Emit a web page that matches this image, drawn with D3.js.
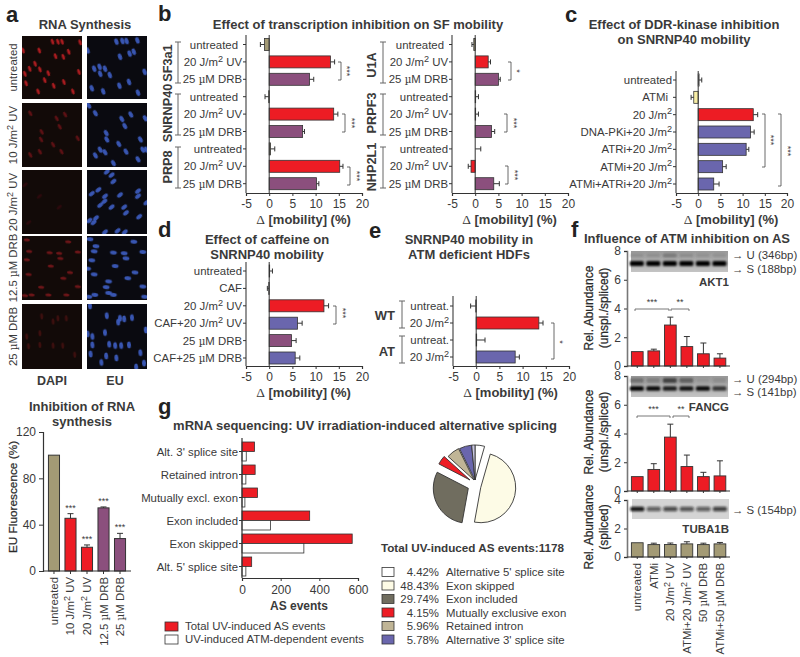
<!DOCTYPE html>
<html><head><meta charset="utf-8">
<script src="https://cdn.jsdelivr.net/npm/d3@7"></script>
<style>
html,body{margin:0;padding:0;background:#fff}
svg{display:block}
text{font-family:"Liberation Sans",Arial,sans-serif;fill:#3a3a3a}
</style></head><body><svg id="c" width="800" height="657"></svg>
<script>
// ---------- colours (named)
const RED="#ed1c24",TAN="#a39a75",PUR="#8b4f7d",BLU="#6a66ad",YEL="#f7eda4",WHT="#ffffff";
// ---------- panel a: microscopy nuclei [x%, y%]
const red1=[[51,9],[60,9],[67,9],[97,10],[29,23],[56,32],[69,33],[78,25],[2,23],[22,44],[13,52],[30,53],[5,60],[44,59],[95,57],[53,79],[70,73],[7,75],[27,88],[85,88],[38,70]];
const red2=[[14,16],[72,18],[58,24],[33,45],[32,57],[63,37],[52,65],[66,76],[14,81],[30,76],[93,55]];
const red3=[[29,41],[11,82],[62,58],[5,23]];
const red4=[[8,6],[77,9],[12,24],[46,26],[62,27],[93,25],[8,37],[64,35],[48,47],[11,60],[80,57],[69,66],[32,80],[93,79],[16,92],[5,93],[44,92],[74,92]];
const red5=[[33,19],[52,27],[60,22],[74,22],[8,50],[30,45],[30,63],[52,64],[68,64],[88,78],[11,65]];
const blue1=[[49,9],[59,8],[66,8],[84,7],[1,23],[55,33],[71,28],[78,25],[12,52],[21,49],[30,52],[38,62],[54,79],[70,73],[96,57],[8,83],[27,88],[85,90],[22,60]];
const blue2=[[3,4],[14,16],[73,18],[58,25],[97,24],[63,36],[32,47],[33,57],[53,64],[65,76],[93,73],[30,77],[14,82],[44,94],[89,57],[85,88],[22,73],[99,73]];
const blue3=[[33,3],[41,8],[44,18],[8,37],[19,31],[30,41],[29,49],[22,55],[55,39],[41,58],[62,58],[65,67],[85,33],[85,41],[99,51],[87,73],[15,75],[11,82],[4,79],[30,97],[51,95],[63,97]];
const blue4=[[5,5],[15,16],[12,24],[78,9],[44,26],[62,27],[65,35],[93,25],[8,38],[47,47],[1,51],[12,60],[80,57],[68,66],[36,71],[32,80],[93,79],[44,92],[13,92],[3,95],[96,95],[36,89]];
const blue5=[[5,3],[33,18],[55,22],[62,23],[75,21],[52,28],[1,46],[9,50],[30,44],[98,40],[9,63],[37,62],[47,64],[57,64],[70,63],[6,77],[32,80],[49,83],[89,75],[24,90],[95,91],[82,97]];
const redSets=[red1,red2,red3,red4,red5],blueSets=[blue1,blue2,blue3,blue4,blue5];
const redOpacity=[0.7,0.35,0.12,0.42,0.2];
const rowAngle=[70,60,-40,5,85];
const imgLabels=["untreated","10 J/m² UV","20 J/m² UV","12.5 µM DRB","25 µM DRB"];
// panel a bar
const aCats=["untreated","10 J/m² UV","20 J/m² UV","12.5 µM DRB","25 µM DRB"];
const aVals=[100,45.5,20.5,54.5,28];
const aErrs=[0,4,2,0.8,4.5];
const aCols=[TAN,RED,RED,PUR,PUR];
const aStars=["","***","***","***","***"];
// panel b
const bCats=["untreated","20 J/m² UV","25 µM DRB"];
const bLeftVals=[-1,13.2,8.7,-0.1,13.9,7.2,0.3,15.2,10.2];
const bLeftErrs=[0.9,0.9,0.9,0.8,0.9,0.4,0.9,0.7,0.5];
const bRightVals=[-0.3,2.8,5,0.1,0.1,3.5,0,-0.9,4];
const bRightErrs=[0.4,0.5,0.4,0.6,0.6,0.7,1.2,0.6,1.2];
const bCols=[TAN,RED,PUR,TAN,RED,PUR,TAN,RED,PUR];
// panel c
const cCats=["untreated","ATMi","20 J/m²","DNA-PKi+20 J/m²","ATRi+20 J/m²","ATMi+20 J/m²","ATMi+ATRi+20 J/m²"];
const cVals=[0.2,-1,12.4,11.8,10.8,5.5,3.5];
const cErrs=[0.6,0.6,1,0.8,0.6,0.8,1.2];
const cCols=[WHT,YEL,RED,BLU,BLU,BLU,BLU];
// panel d
const dCats=["untreated","CAF","20 J/m² UV","CAF+20 J/m² UV","25 µM DRB","CAF+25 µM  DRB"];
const dVals=[0.1,-0.1,11.8,6.1,4.8,5.6];
const dErrs=[0.6,0.3,1,1,1,1];
const dCols=[WHT,WHT,RED,BLU,PUR,BLU];
// panel e
const eCats=["untreat.","20 J/m²","untreat.","20 J/m²"];
const eVals=[-0.1,13.5,0.1,8.4];
const eErrs=[1.1,0.9,1.8,0.9];
const eCols=[WHT,RED,WHT,BLU];
// panel f
const fCats=["untreated","ATMi","20 J/m² UV","ATMi+20 J/m² UV","50 µM DRB","ATMi+50 µM DRB"];
const f1Vals=[1,1.05,2.85,1.35,0.85,0.55];
const f1Errs=[0,0.12,0.55,0.7,0.75,0.3];
const f2Vals=[1,1.5,3.75,1.7,1,1.05];
const f2Errs=[0,0.4,0.9,0.8,0.3,1.05];
const f3Vals=[1,0.87,0.88,0.92,0.87,0.92];
const f3Errs=[0,0.1,0.1,0.15,0.1,0.1];
const gel1U=[.25,.25,.55,.3,.22,.22];
const gel1S=[1,1,1,1,1,1];
const gel2U=[.45,.3,.85,.6,.12,.2];
const gel2S=[1,.95,.85,.9,.95,.7];
const gel3S=[.95,.6,.7,.65,.6,.75];
// panel g
const gCats=["Alt. 3' splice site","Retained intron","Mutually excl. exon","Exon included","Exon skipped","Alt. 5' splice site"];
const gTotal=[65,68,80,350,570,50];
const gAtm=[22,20,15,147,320,20];
const gLegend=["Total UV-induced AS events","UV-induced ATM-dependent events"];
// pie
const pieLabels=["Alternative 5' splice site","Exon skipped","Exon included","Mutually exclusive exon","Retained intron","Alternative 3' splice site"];
const piePct=[4.42,48.43,29.74,4.15,5.96,5.78];
const pieRest=[1.52];
const pieCols=["#ffffff","#fdfbe6","#706d5f",RED,"#c0b596",BLU,"#c9c7e2"];
const pieShift=[[0,0],[5.7,7.7],[-6.7,8.3],[-5,0],[-1,0],[0,0],[0,0]];

const svg=d3.select("#c");
const FS=11.4, TX="#3a3a3a";
svg.append("defs").html(`
<filter id="b1" x="-30%" y="-60%" width="160%" height="220%"><feGaussianBlur stdDeviation="1.1"/></filter>
<filter id="b2" x="-30%" y="-60%" width="160%" height="220%"><feGaussianBlur stdDeviation="0.6"/></filter>
<linearGradient id="gelg" x1="0" y1="0" x2="0" y2="1"><stop offset="0" stop-color="#9a9a9a"/><stop offset="1" stop-color="#c4c4c4"/></linearGradient>`);

function T(x,y,s,o={}){
  const t=svg.append("text").attr("x",x).attr("y",y).attr("font-size",o.size||FS)
    .attr("text-anchor",o.anchor||"start").attr("dominant-baseline","central");
  if(o.bold)t.attr("font-weight","bold");
  if(o.heavy)t.style("fill","#2a2a2a").attr("stroke","#2a2a2a").attr("stroke-width",0.25);
  if(o.rot!==undefined)t.attr("transform",`rotate(${o.rot} ${x} ${y})`);
  setSup(t,s);return t;
}
function setSup(t,s){ // renders ² as raised 2 and µ with a serif glyph
  const parts=s.split(/(²|µ)/);
  let after=false;
  parts.forEach(p=>{
    if(p==="²"){t.append("tspan").attr("dy","-0.35em").attr("font-size","0.8em").text("2");after=true;}
    else if(p==="µ")t.append("tspan").attr("font-family","DejaVu Serif").attr("font-size","0.9em").text("µ");
    else if(p){const ts=t.append("tspan").text(p);
      if(after){ts.attr("dy","0.28em");after=false;}}
  });
}
function L(x1,y1,x2,y2,c="#333",w=1){svg.append("line").attr("x1",x1).attr("y1",y1).attr("x2",x2).attr("y2",y2).attr("stroke",c).attr("stroke-width",w);}
function panelLetter(x,y,s){T(x,y,s,{size:22,bold:true}).style("fill","#222");}

// panel letters
[[6,14,"a"],[158,13,"b"],[565,14,"c"],[158,229,"d"],[369,230,"e"],[571,229,"f"],[158,406,"g"]].forEach(d=>panelLetter(...d));

// --- panel a images
const imgX=[22,87],imgW=60;
const imgY=[36,103,170,236,304],imgH=[63,64,64,64,65];
imgY.forEach((y,r)=>{
  [0,1].forEach(c=>{
    const x=imgX[c],h=imgH[r];
    const id="cl"+r+"_"+c;
    svg.select("defs").append("clipPath").attr("id",id).append("rect").attr("x",x).attr("y",y).attr("width",imgW).attr("height",h);
    const g=svg.append("g").attr("clip-path",`url(#${id})`);
    g.append("rect").attr("x",x).attr("y",y).attr("width",imgW).attr("height",h).attr("fill",c?"#0a0a10":"#120a08");
    const sx=d3.scaleLinear([0,100],[x,x+imgW]),sy=d3.scaleLinear([0,100],[y,y+h]);
    g.selectAll("ellipse").data(c?blueSets[r]:redSets[r]).join("ellipse")
      .attr("transform",d=>`translate(${sx(d[0])},${sy(d[1])}) rotate(${rowAngle[r]})`)
      .attr("rx",c?3.4:3).attr("ry",c?1.9:1.6)
      .attr("fill",c?"#3d5ec4":"#e8232a").attr("fill-opacity",c?0.9:redOpacity[r])
      .attr("filter","url(#b2)");
  });
  T(13,y+imgH[r]/2,imgLabels[r],{rot:-90,anchor:"middle",size:11.4});
});
T(85,24,"RNA Synthesis",{anchor:"middle",bold:true,size:13});
T(52,381,"DAPI",{anchor:"middle",bold:true,size:12.5});
T(115,381,"EU",{anchor:"middle",bold:true,size:12.5});

// --- panel a bar
(function(){
  const y=d3.scaleLinear([0,120],[571,432]);
  const x=d3.scaleBand(aCats,[43,131]).padding(0.33);
  const g=svg.append("g");
  g.selectAll("rect").data(aVals).join("rect")
   .attr("x",(d,i)=>x(aCats[i])).attr("width",x.bandwidth())
   .attr("y",d=>y(d)).attr("height",d=>y(0)-y(d))
   .attr("fill",(d,i)=>aCols[i]).attr("stroke","#333").attr("stroke-width",1);
  aVals.forEach((v,i)=>{
    if(!aErrs[i])return;
    const cx=x(aCats[i])+x.bandwidth()/2;
    L(cx,y(v),cx,y(v+aErrs[i]));L(cx-3,y(v+aErrs[i]),cx+3,y(v+aErrs[i]));
    T(cx,y(v+aErrs[i])-6,aStars[i],{anchor:"middle",size:9});
  });
  const ya=svg.append("g").attr("transform","translate(43,0)").call(d3.axisLeft(y).tickValues([0,40,80,120]).tickSize(4));
  styleAxis(ya,12);
  L(43,571,131,571,"#333",1.2);
  aCats.forEach((c,i)=>{
    const cx=x(c)+x.bandwidth()/2;
    L(cx,571,cx,574);
    T(cx,577,c,{rot:-90,anchor:"end",size:FS});
  });
  T(13,497,"EU Fluorescence (%)",{rot:-90,anchor:"middle",size:11.8,heavy:true});
  T(82,406,"Inhibition of RNA",{anchor:"middle",bold:true,size:13});
  T(82,421,"synthesis",{anchor:"middle",bold:true,size:13});
})();
function styleAxis(s,size){
  s.selectAll("text").attr("font-size",size||FS).attr("font-family","Liberation Sans").style("fill",TX);
  s.selectAll("line").attr("stroke","#333");
  s.select(".domain").attr("stroke","#333").attr("stroke-width",1.2);
}
// --- horizontal bar panel
function hbar(o){
  const x=d3.scaleLinear([-5,20],[o.x0,o.x1]);
  const y=d3.scalePoint(o.cats.map((c,i)=>i),[o.y0,o.y1]);
  const h=o.h||12;
  const g=svg.append("g");
  o.vals.forEach((v,i)=>{
    const cy=y(i),e=o.errs[i],sign=(o.dir&&o.dir[i])||(v<0?-1:1);
    const end=x(v+sign*e);
    L(x(v),cy,end,cy,"#333",1);L(end,cy-2.5,end,cy+2.5,"#333",1);
    if(Math.abs(v)>0.05)g.append("rect").attr("x",Math.min(x(0),x(v))).attr("y",cy-h/2).attr("width",Math.abs(x(v)-x(0))).attr("height",h)
      .attr("fill",o.cols[i]).attr("stroke","#333").attr("stroke-width",.8);
  });
  svg.append("line").attr("x1",x(0)).attr("x2",x(0)).attr("y1",o.top).attr("y2",o.bottom).attr("stroke","#333");
  const xa=svg.append("g").attr("transform",`translate(0,${o.bottom})`).call(d3.axisBottom(x).tickValues([-5,0,5,10,15,20]).tickSize(3).tickFormat(d=>String(d)));
  styleAxis(xa,12);xa.selectAll("text").attr("dy","0.75em");
  L(o.x0,o.top,o.x0,o.bottom,"#666",1.4);
  o.cats.forEach((c,i)=>{
    L(o.x0-3,y(i),o.x0,y(i),"#333");
    T(o.x0-4-((o.dx&&o.dx[i])||0),y(i),c,{anchor:"end"});
  });
  const cx=o.x0+(o.x1-o.x0)*0.5-0.5;
  const t=T(cx,o.bottom+26,"",{anchor:"middle",size:13,bold:true});
  t.append("tspan").attr("font-family","Liberation Serif").attr("font-weight","normal").attr("font-size",13.5).text("Δ");
  t.append("tspan").text(" [mobility] (%)");
}
function sig(x,y1,y2,stars,sx,sy){
  svg.append("path").attr("d",`M${x-3},${y1}H${x}V${y2}H${x-3}`).attr("fill","none").attr("stroke","#444").attr("stroke-width",.8);
  T(sx,sy,stars,{rot:90,anchor:"middle",size:9});
}
function grp(x,y1,y2,cap=3){
  svg.append("path").attr("d",`M${x-cap},${y1}H${x+cap}M${x},${y1}V${y2}M${x-cap},${y2}H${x+cap}`).attr("fill","none").attr("stroke","#666").attr("stroke-width",1);
}
const bRepeat=d3.range(9).map(i=>bCats[i%3]);
T(358,24,"Effect of transcription inhibition on SF mobility",{anchor:"middle",bold:true,size:13});
hbar({cats:bRepeat,vals:bLeftVals,errs:bLeftErrs,cols:bCols,x0:246,x1:362,y0:44.5,y1:183.7,top:35,bottom:193,dx:[4,0,0,4,0,0,0,0,0]});
hbar({cats:bRepeat,vals:bRightVals,errs:bRightErrs,cols:bCols,x0:452,x1:568,y0:44.5,y1:183.7,top:35,bottom:193,dx:[4,0,0,0,0,0,0,0,0],dir:[-1,1,1,1,1,1,1,-1,1]});
sig(341,62,80,"***",347,71);sig(345,114,132,"***",352,123);sig(350,167,185,"***",357,176);
sig(511,62,80,"*",517,71);sig(507,114,132,"***",514,123);sig(508,166,184,"***",515,175);
grp(178,42,83);grp(178,94,135);grp(178,147,188);
grp(383,42,83);grp(383,94,135);grp(383,147,188);
[["SF3a1",63],["SNRNP40",113],["PRP8",167]].forEach(d=>T(168,d[1],d[0],{rot:-90,anchor:"middle",bold:true,size:12.7}));
[["U1A",65],["PRPF3",113],["NHP2L1",167]].forEach(d=>T(372,d[1],d[0],{rot:-90,anchor:"middle",bold:true,size:12.7}));

T(684,24,"Effect of DDR-kinase inhibition",{anchor:"middle",bold:true,size:13});
T(684,39,"on SNRNP40 mobility",{anchor:"middle",bold:true,size:13});
hbar({cats:cCats,vals:cVals,errs:cErrs,cols:cCols,x0:676,x1:787,y0:80,y1:184,top:71,bottom:193,dx:[0,4,0,0,0,0,0]});
sig(765,114,167,"***",771,140);sig(781,114,186,"***",788,151);

T(267,239,"Effect of caffeine on",{anchor:"middle",bold:true,size:13});
T(267,254,"SNRNP40 mobility",{anchor:"middle",bold:true,size:13});
hbar({cats:dCats,vals:dVals,errs:dErrs,cols:dCols,x0:246,x1:362,y0:271,y1:358,top:262,bottom:366});
sig(336,306,324,"***",343,313);

T(469,239,"SNRNP40 mobility in",{anchor:"middle",bold:true,size:13});
T(469,254,"ATM deficient HDFs",{anchor:"middle",bold:true,size:13});
hbar({cats:eCats,vals:eVals,errs:eErrs,cols:eCols,x0:453,x1:569,y0:306,y1:357,top:296,bottom:366,dir:[-1,1,1,1]});
sig(554,323,359,"*",560,342);
grp(402,301,328);grp(402,336,363);
T(395,315,"WT",{anchor:"end",bold:true,size:13});
T(395,351,"AT",{anchor:"end",bold:true,size:13});

// --- panel f
const fX=d3.scaleBand(fCats,[626.6,730.6]).padding(0.29);
function vbar(vals,errs,color,yScale,ticks){
  const base=yScale(0);
  svg.append("g").selectAll("rect").data(vals).join("rect")
   .attr("x",(d,i)=>fX(fCats[i])).attr("width",fX.bandwidth())
   .attr("y",d=>yScale(d)).attr("height",d=>base-yScale(d))
   .attr("fill",color).attr("stroke","#333").attr("stroke-width",.9);
  vals.forEach((v,i)=>{
    const cx=fX(fCats[i])+fX.bandwidth()/2;
    if(errs[i]){L(cx,yScale(v),cx,yScale(v+errs[i]));L(cx-3,yScale(v+errs[i]),cx+3,yScale(v+errs[i]));}
    L(cx,base,cx,base+2);
  });
  const a=svg.append("g").attr("transform","translate(627,0)").call(d3.axisLeft(yScale).tickValues(ticks).tickSize(3).tickFormat(d3.format("d")));
  styleAxis(a,12);a.select(".domain").attr("stroke","#777").attr("stroke-width",1.6);
  L(627,base,730,base,"#333",1.2);
}
function gel(y,h,bands){
  svg.append("rect").attr("x",631).attr("y",y).attr("width",97).attr("height",h).attr("fill","url(#gelg)");
  bands.forEach(b=>{
    b.vals.forEach((v,i)=>{
      const cx=fX(fCats[i])+fX.bandwidth()/2-0.5;
      svg.append("rect").attr("x",cx-7).attr("y",b.y-b.h/2).attr("width",14).attr("height",b.h).attr("rx",1.5)
        .attr("fill",b.col).attr("fill-opacity",v).attr("filter","url(#b1)");
    });
  });
}
const f1Y=d3.scaleLinear([0,8],[366,251]),f2Y=d3.scaleLinear([0,8],[491,376]),f3Y=d3.scaleLinear([0,4],[557,500]);
gel(251,21,[{y:255.5,h:4,col:"#555",vals:gel1U},{y:263.5,h:5,col:"#050505",vals:gel1S}]);
gel(376,21,[{y:380.5,h:5,col:"#333",vals:gel2U},{y:388.5,h:4.5,col:"#050505",vals:gel2S}]);
svg.append("rect").attr("x",632).attr("y",499).attr("width",97).attr("height",20).attr("fill","#d4d4d4");
[{y:509,h:4.5,col:"#111",vals:gel3S}].forEach(b=>b.vals.forEach((v,i)=>{
  const cx=fX(fCats[i])+fX.bandwidth()/2;
  svg.append("rect").attr("x",cx-7).attr("y",b.y-b.h/2).attr("width",14).attr("height",b.h).attr("rx",1.5).attr("fill",b.col).attr("fill-opacity",v).attr("filter","url(#b1)");
}));
vbar(f1Vals,f1Errs,RED,f1Y,[0,2,4,6,8]);
vbar(f2Vals,f2Errs,RED,f2Y,[0,2,4,6,8]);
vbar(f3Vals,f3Errs,TAN,f3Y,[0,2,4]);
T(687,238,"Influence of ATM inhibition on AS",{anchor:"middle",bold:true,size:13});
[["→ U (346bp)",255],["→ S (188bp)",269],["→ U (294bp)",379],["→ S (141bp)",392],["→ S (154bp)",510]].forEach(d=>T(732,d[1],d[0],{size:11.4}));
T(729,282,"AKT1",{anchor:"end",bold:true,size:11.5});
T(729,407,"FANCG",{anchor:"end",bold:true,size:11.5});
T(729,529,"TUBA1B",{anchor:"end",bold:true,size:11.5});
function sb(x1,x2,y,s){
  svg.append("path").attr("d",`M${x1},${y+2}V${y}H${x2}V${y+2}`).attr("fill","none").attr("stroke","#555").attr("stroke-width",.8);
  T((x1+x2)/2,y-7,s,{anchor:"middle",size:9});
}
sb(635,669,309,"***");sb(671,689,309,"**");
sb(637,670,416,"***");sb(673,689,416,"**");
[[588.5,308,"Rel. Abundance"],[603.5,308,"(unspl./spliced)"],[588.5,432,"Rel. Abundance"],[603.5,432,"(unspl./spliced)"],[588.5,527,"Rel. Abundance"],[604,527,"(spliced)"]]
 .forEach(d=>T(d[0],d[1],d[2],{rot:-90,anchor:"middle",size:12,heavy:true}));
fCats.forEach((c,i)=>T(fX(c)+fX.bandwidth()/2,563,c,{rot:-90,anchor:"end"}));

// --- panel g
T(365,425,"mRNA sequencing: UV irradiation-induced alternative splicing",{anchor:"middle",bold:true,size:13});
(function(){
  const x=d3.scaleLinear([0,600],[242,358]);
  const y=d3.scaleBand(gCats,[440,578]);
  const bh=9.5,cy=c=>y(c)+y.bandwidth()/2;
  svg.append("g").selectAll("rect").data(gTotal).join("rect")
    .attr("x",x(0)).attr("y",(d,i)=>cy(gCats[i])-bh).attr("width",d=>x(d)-x(0)).attr("height",bh)
    .attr("fill",RED).attr("stroke","#333").attr("stroke-width",.8);
  svg.append("g").selectAll("rect").data(gAtm).join("rect")
    .attr("x",x(0)).attr("y",(d,i)=>cy(gCats[i])).attr("width",d=>x(d)-x(0)).attr("height",bh)
    .attr("fill","#fff").attr("stroke","#333").attr("stroke-width",.8);
  const xa=svg.append("g").attr("transform","translate(0,578)").call(d3.axisBottom(x).tickValues([0,200,400,600]).tickSize(3));
  styleAxis(xa,12);xa.selectAll("text").attr("dy","0.8em");
  L(242,438,242,578,"#333",1.2);
  gCats.forEach(c=>{L(239,cy(c),242,cy(c));T(238,cy(c),c,{anchor:"end"});});
  T(299,606,"AS events",{anchor:"middle",bold:true,size:12});
  [[RED,622,gLegend[0],626],["#fff",635,gLegend[1],639]].forEach(d=>{
    svg.append("rect").attr("x",165).attr("y",d[1]).attr("width",13).attr("height",9).attr("fill",d[0]).attr("stroke","#333").attr("stroke-width",.8);
    T(185,d[3],d[2]);
  });
})();
// --- pie
(function(){
  const vals=piePct.concat(pieRest);
  const arcs=d3.pie().sort(null)(vals);
  const arc=d3.arc().innerRadius(0).outerRadius(35);
  svg.append("g").attr("transform","translate(475,480)").selectAll("path").data(arcs).join("path")
    .attr("d",arc).attr("fill",(d,i)=>pieCols[i])
    .attr("transform",(d,i)=>`translate(${pieShift[i]})`).attr("stroke","#333").attr("stroke-width",.9);
  T(472.5,547,"Total UV-induced AS events:1178",{anchor:"middle",bold:true,size:11.7});
  piePct.forEach((p,i)=>{
    const y=572+i*13.5;
    svg.append("rect").attr("x",382).attr("y",y-4.5).attr("width",12).attr("height",9).attr("fill",pieCols[i]).attr("stroke","#333").attr("stroke-width",.8);
    T(439,y,d3.format(".2f")(p)+"%",{anchor:"end"});
    T(446,y,pieLabels[i]);
  });
})();
</script></body></html>
